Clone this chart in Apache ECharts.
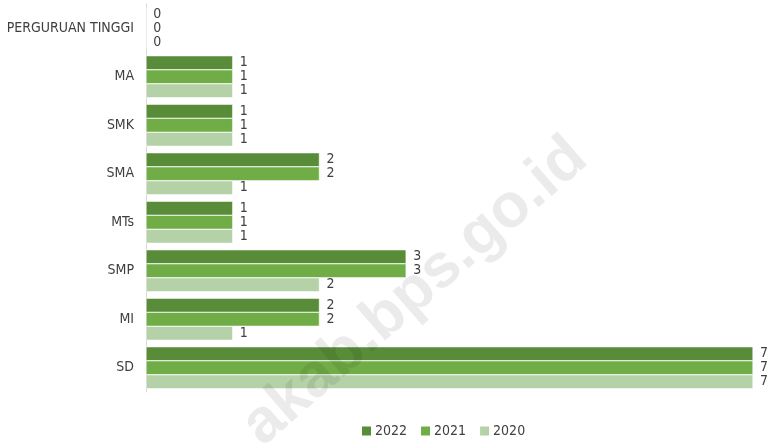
<!DOCTYPE html>
<html>
<head>
<meta charset="utf-8">
<script src="https://cdn.jsdelivr.net/npm/echarts@6/dist/echarts.min.js"></script>
<style>
  html, body { margin: 0; padding: 0; background: #fff; }
  #chart { width: 771px; height: 445px; }
</style>
</head>
<body>
<div id="chart"></div>
<script>
// kategori dari bawah ke atas
const categories = ['SD', 'MI', 'SMP', 'MTs', 'SMA', 'SMK', 'MA', 'PERGURUAN TINGGI']
const years = ['2022', '2021', '2020']
const data2022 = [7, 2, 3, 1, 2, 1, 1, 0]
const data2021 = [7, 2, 3, 1, 2, 1, 1, 0]
const data2020 = [7, 1, 2, 1, 1, 1, 1, 0]

const font = "'DejaVu Sans Condensed', 'Open Sans', sans-serif"
const colors = { '2022': '#588c38', '2021': '#70ad47', '2020': '#b5d1a7' }

function makeSeries (name, values) {
  return {
    name: name,
    type: 'bar',
    data: values,
    barWidth: 14,
    barGap: '0%',
    itemStyle: { color: colors[name], borderColor: '#fff', borderWidth: 0.5 },
    label: {
      show: true,
      position: 'right',
      distance: 7,
      color: '#404040',
      fontSize: 14,
      fontFamily: font
    }
  }
}

const chart = echarts.init(document.getElementById('chart'))
chart.setOption({
  animation: false,
  grid: { left: 146, right: 18, top: 4, bottom: 53 },
  legend: {
    data: years,
    bottom: 2,
    left: 355,
    icon: 'rect',
    itemWidth: 11,
    itemHeight: 11,
    itemGap: 12,
    textStyle: { color: '#404040', fontSize: 14, fontFamily: font, padding: [0, 0, 0, -2] }
  },
  xAxis: {
    type: 'value',
    min: 0,
    max: 7,
    show: false,
    splitLine: { show: false }
  },
  yAxis: {
    type: 'category',
    data: categories,
    axisTick: { show: false },
    axisLine: { lineStyle: { color: '#d9d9d9' } },
    axisLabel: { color: '#404040', fontSize: 14, margin: 12, fontFamily: font }
  },
  series: [
    makeSeries('2022', data2022),
    makeSeries('2021', data2021),
    makeSeries('2020', data2020)
  ],
  graphic: [{
    type: 'text',
    x: 415,
    y: 292,
    rotation: 41 * Math.PI / 180,
    z: 100,
    style: {
      text: 'akab.bps.go.id',
      fill: 'rgba(0,0,0,0.08)',
      font: 'bold 62px Arial, sans-serif',
      align: 'center',
      verticalAlign: 'middle'
    }
  }]
})
</script>
</body>
</html>
